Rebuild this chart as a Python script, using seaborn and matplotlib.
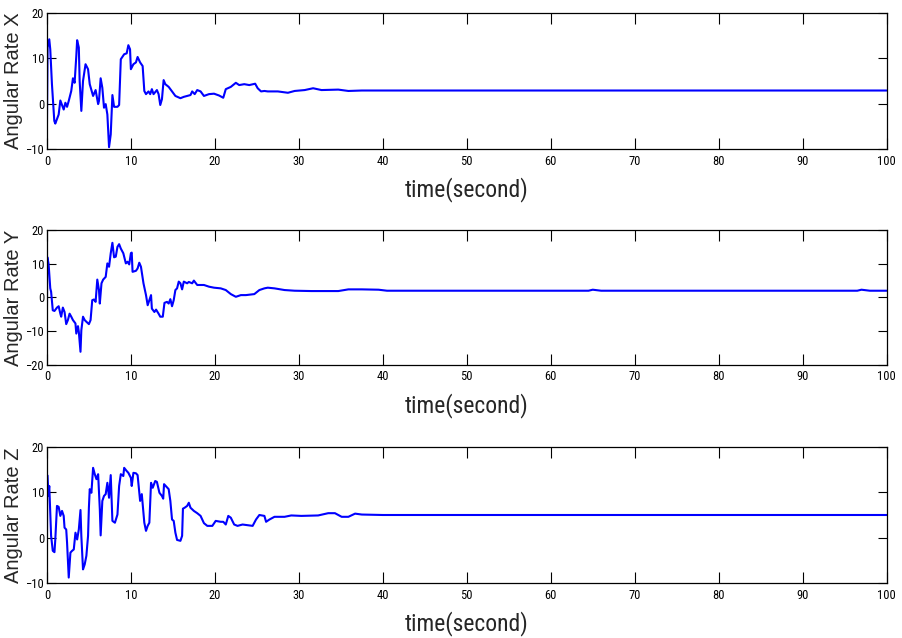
import matplotlib
matplotlib.use("Agg")
import matplotlib.pyplot as plt
import seaborn as sns
import numpy as np
import pandas as pd

# ---------------- data ----------------
t_x = [0, 0.08, 0.28, 0.4, 0.6, 0.88, 1.0, 1.4, 1.6, 2.0, 2.2, 2.4, 2.6, 2.9, 3.1, 3.3, 3.5, 3.6,
       3.8, 3.9, 4.1, 4.3, 4.6, 4.9, 5.1, 5.5, 5.8, 6.1, 6.2, 6.4, 6.6, 6.8, 7.0, 7.2, 7.4, 7.6,
       7.8, 8.0, 8.4, 8.6, 8.8, 9.2, 9.5, 9.7, 9.9, 10.0, 10.3, 10.6, 10.8, 11.1, 11.4, 11.6,
       11.8, 12.1, 12.3, 12.5, 12.7, 13.1, 13.3, 13.5, 13.7, 13.9, 14.1, 14.5, 14.9, 15.3, 15.9,
       16.3, 16.7, 17.1, 17.3, 17.6, 17.9, 18.3, 18.7, 19.3, 19.9, 20.5, 21.0, 21.3, 21.9, 22.3,
       22.5, 22.9, 23.5, 24.1, 24.8, 25.1, 25.5, 25.9, 26.3, 27.5, 28.7, 29.5, 30.7, 31.7, 32.7,
       34.7, 35.9, 37.5, 100]
v_x = [-6, 12.4, 14.2, 12, 4.3, -3.8, -4.4, -2.4, 0.7, -1.3, 0.2, -0.7, 0.6, 2.8, 5.6, 4.6, 10.5, 14,
       12.4, 5, -1.6, 5, 8.7, 7.6, 4.3, 1.7, 3, -0.1, 0.6, 5.6, 3.5, -0.9, -0.1, -2.4, -9.6, -6.8,
       1.9, -0.7, -0.7, -0.3, 9.8, 10.9, 11.1, 12.9, 12, 7.6, 8.7, 9.1, 10.3, 9.1, 8.3, 2.8,
       2.1, 2.7, 2.1, 3.2, 2.1, 3, 2.1, -0.3, 1, 5.2, 4.3, 3.7, 2.7, 1.7, 1.2,
       1.5, 1.7, 1.9, 2.7, 2.1, 3, 2.7, 1.7, 2.1, 2.2, 1.8, 1.3, 3.2, 3.7, 4.3,
       4.6, 4.1, 4.3, 4.1, 4.4, 3.4, 2.7, 2.8, 2.7, 2.7, 2.4, 2.8, 3, 3.4, 3,
       3.1, 2.8, 2.9, 2.9]

t_y = [0, 0.04, 0.2, 0.4, 0.5, 0.7, 0.9, 1.2, 1.4, 1.6, 1.7, 1.9, 2.1, 2.3, 2.5, 2.7, 2.9, 3.1, 3.4,
       3.5, 3.7, 3.8, 4.0, 4.1, 4.3, 4.5, 4.7, 5.0, 5.2, 5.4, 5.6, 5.8, 6.0, 6.2, 6.3, 6.5, 6.7,
       7.0, 7.2, 7.4, 7.6, 7.8, 8.0, 8.2, 8.4, 8.6, 8.8, 9.1, 9.4, 9.6, 9.8, 10.0, 10.1, 10.2,
       10.6, 10.8, 11.0, 11.2, 11.5, 11.8, 12.0, 12.2, 12.4, 12.5, 12.8, 13.0, 13.3, 13.5, 13.8,
       14.0, 14.3, 14.5, 14.7, 14.9, 15.1, 15.3, 15.5, 15.7, 15.9, 16.1, 16.3, 16.7, 16.9, 17.3,
       17.5, 17.9, 18.7, 19.3, 19.9, 20.7, 21.3, 21.9, 22.5, 23.1, 23.7, 24.7, 25.3, 25.9, 26.3,
       27.1, 28.3, 29.5, 31.5, 33.1, 34.7, 35.9, 37.5, 39.5, 40.5, 64.5, 65, 66, 96.5, 97, 98, 100]
v_y = [-6.7, 12, 10, 2.7, 1.7, -3.8, -4, -3, -2.6, -4.8, -5.7, -3, -4.3, -7.9, -6.7, -4.8, -5.7, -6.7, -7.7,
       -10.7, -8.5, -10.2, -16.1, -9.7, -5.7, -6.7, -7.2, -7.9, -6.7, -0.8, -0.6, -1.3, 5.3, 2.2, -1.8, 4.2, 5.3,
       6.1, 10.1, 9.1, 13.1, 16.2, 11.9, 12.1, 15, 15.8, 14.5, 13.1, 10.1, 10.6, 9.8, 13.1, 13.3, 7.6,
       7.9, 8.6, 10.3, 9.1, 4.2, 0.7, -2.3, -0.8, 0.7, -3.3, -4.3, -3.6, -4.8, -5.7, -5.7,
       -1.6, -1.3, -1.8, -0.5, -2.6, -0.8, 2.2, 2.7, 4.7, 4.2, 2.4, 4.7, 4.2, 4.6, 4.2,
       5, 3.7, 3.7, 3.2, 2.9, 2.7, 2.2, 1, 0.2, 0.7, 0.7, 1, 2.2, 2.7, 2.9,
       2.7, 2.2, 2, 1.9, 1.9, 1.9, 2.4, 2.4, 2.3, 2.0, 2.0, 2.3, 2.0, 2.0, 2.3, 2.0, 2.0]

t_z = [0, 0.04, 0.16, 0.28, 0.4, 0.5, 0.7, 0.9, 1.0, 1.2, 1.4, 1.6, 1.8, 2.0, 2.1, 2.3, 2.4, 2.6, 2.8,
       3.0, 3.2, 3.4, 3.6, 3.8, 4.0, 4.1, 4.3, 4.5, 4.7, 4.9, 5.0, 5.1, 5.3, 5.5, 5.7, 5.9, 6.1,
       6.3, 6.4, 6.6, 6.8, 7.0, 7.2, 7.4, 7.6, 7.8, 8.1, 8.4, 8.6, 8.8, 9.1, 9.2, 9.5, 9.7, 10.0,
       10.1, 10.3, 10.6, 10.8, 11.1, 11.3, 11.6, 11.8, 12.0, 12.2, 12.4, 12.6, 12.9, 13.1, 13.4,
       13.7, 13.85, 13.95, 14.2, 14.5, 14.7, 14.9, 15.1, 15.3, 15.5, 15.9, 16.1, 16.2, 16.4, 16.7,
       16.9, 17.1, 17.5, 17.9, 18.3, 18.7, 19.1, 19.7, 20.1, 20.7, 21.0, 21.3, 21.6, 21.9, 22.3,
       22.7, 23.3, 24.1, 24.5, 24.9, 25.3, 25.9, 26.1, 26.5, 27.1, 28.3, 29.1, 30.3, 32.3, 33.5,
       34.3, 35.1, 35.9, 36.7, 37.5, 40, 100]
v_z = [-3.3, 13.8, 9.2, 11.4, 5.5, 0.4, -2.9, -3.2, -0.4, 7, 6.8, 4.8, 5.9, 4.8, 2.2, 1.8, -1.1, -8.8, -3.3,
       -2.9, -2.6, 1.1, -0.4, 1.8, 6.1, 0.4, -7, -5.9, -4, 0.4, 6.6, 10.7, 9.9, 15.4, 14, 12.9, 14,
       6.3, 0.5, 8.1, 9.2, 9.6, 12.1, 8.8, 13.8, 3.7, 3.3, 5.1, 11.4, 14, 13.6, 15.4, 14.7, 14.3, 13.2,
       11.4, 14.3, 14.2, 13.8, 8.1, 9.6, 3.3, 1.5, 2.6, 3.3, 12.1, 11, 12.5, 12.3, 9.9,
       9.2, 8.6, 11.8, 11.3, 10.7, 8.1, 4, 3.7, 1.1, -0.5, -0.7, 0.4, 6.4, 6.6, 7,
       7.7, 6.6, 5.9, 5.4, 4.8, 3.2, 2.6, 2.6, 3.7, 3.5, 3.5, 2.9, 4.8, 4.4, 2.9,
       2.6, 2.9, 2.7, 2.6, 4, 5, 4.8, 3.5, 4, 4.6, 4.6, 4.9, 4.8, 4.9, 5.4,
       5.4, 4.6, 4.6, 5.3, 5.1, 5.0, 5.0]

ylabels = ["Angular Rate X", "Angular Rate Y", "Angular Rate Z"]
xlabel = "time(second)"
xticks = [0, 10, 20, 30, 40, 50, 60, 70, 80, 90, 100]
yticks_x = [-10, 0, 10, 20]
yticks_y = [-20, -10, 0, 10, 20]
yticks_z = [-10, 0, 10, 20]

# ---------------- style ----------------
sns.set_style("white")
narrow = ["Liberation Sans Narrow", "Nimbus Sans Narrow", "Arial Narrow", "Roboto Condensed",
          "Archivo Narrow", "Liberation Sans", "DejaVu Sans"]
regular = ["Liberation Sans", "DejaVu Sans"]
plt.rcParams["font.family"] = narrow

fig = plt.figure(figsize=(9.02, 6.38), dpi=100)
positions = [
    [0.052, 0.7665, 0.931, 0.2131],
    [0.052, 0.4280, 0.931, 0.2115],
    [0.052, 0.0862, 0.931, 0.2132],
]
series = [(t_x, v_x, yticks_x), (t_y, v_y, yticks_y), (t_z, v_z, yticks_z)]

for pos, (tt, vv, yt), yl in zip(positions, series, ylabels):
    ax = fig.add_axes(pos)
    df = pd.DataFrame({"t": tt, "v": vv})
    sns.lineplot(data=df, x="t", y="v", ax=ax, color="#0000ff", lw=1.5,
                 estimator=None, sort=False)
    ax.set_xlim(0, 100)
    ax.set_ylim(yt[0], yt[-1])
    ax.set_xticks(xticks)
    ax.set_yticks(yt)
    ax.tick_params(axis="x", direction="in", length=8, width=0.8, top=True, bottom=True,
                   labelsize=9, pad=4, colors="black")
    ax.tick_params(axis="y", direction="in", length=6.5, width=0.8, left=True, right=True,
                   labelsize=9, pad=2, colors="black")
    for s in ax.spines.values():
        s.set_linewidth(0.9)
        s.set_color("black")
    ax.set_ylabel(yl, fontsize=14.5, family=regular)
    ax.yaxis.set_label_coords(-0.0285, 0.5)
    ax.set_xlabel(xlabel, fontsize=17, family=narrow, labelpad=7)

fig.savefig("out.png", dpi=100)
